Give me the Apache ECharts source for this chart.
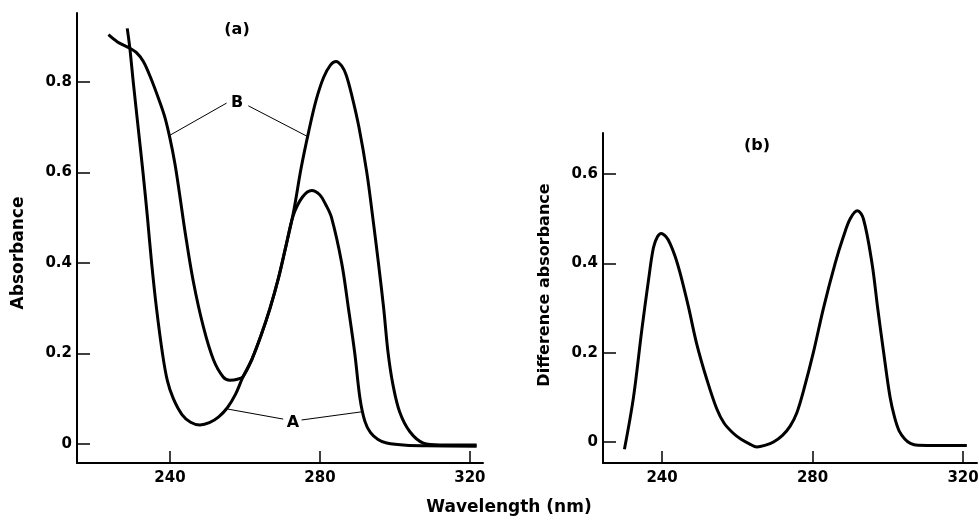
<!DOCTYPE html>
<html>
<head>
<meta charset="utf-8">
<script src="https://cdn.jsdelivr.net/npm/echarts@6/dist/echarts.min.js"></script>
<style>
  html, body { margin: 0; padding: 0; background: #fff; }
  #chart { width: 979px; height: 522px; }
</style>
</head>
<body>
<div id="chart"></div>
<script>
// (a) curve A
const aWave = [228.6, 229.3, 230.2, 231.5, 232.8, 234, 235.1, 236.4, 238, 239.3, 240.9, 243.2, 245.5, 248,
  250.5, 253, 255.3, 257.5, 259.5, 261.8, 264.3, 266.7, 268.9, 270.9, 272.9, 275.3, 277.8, 280, 281.6,
  283.1, 285.8, 287.6, 289.3, 290.7, 292, 293.5, 295.5, 297.8, 303, 308.4, 321.8]
const aAbs = [0.918, 0.874, 0.8, 0.7, 0.6, 0.5, 0.4, 0.3, 0.2, 0.14, 0.1, 0.065, 0.048, 0.042,
  0.047, 0.06, 0.08, 0.11, 0.149, 0.186, 0.24, 0.3, 0.365, 0.436, 0.505, 0.545, 0.56, 0.55, 0.528,
  0.5, 0.4, 0.3, 0.2, 0.1, 0.05, 0.025, 0.01, 0.002, -0.003, -0.004, -0.005]

// (a) curve B
const bWave = [223.6, 226, 229.3, 231, 232.9, 234.8, 237.3, 238.7, 240, 241.3, 242.6, 244, 246.2, 248.9, 251.6,
  254.2, 256, 258, 259.5, 261.8, 264.3, 266.7, 268.9, 270.9, 272.9, 275, 277, 279, 281, 282.8, 284.3,
  285.8, 287, 288.5, 290.4, 292.5, 294.1, 295.6, 297, 298.2, 299.5, 301.3, 304, 307.6, 312, 321.8]
const bAbs = [0.904, 0.888, 0.874, 0.865, 0.845, 0.81, 0.755, 0.72, 0.675, 0.62, 0.55, 0.47, 0.36, 0.259, 0.186,
  0.148, 0.141, 0.143, 0.149, 0.186, 0.24, 0.3, 0.365, 0.436, 0.51, 0.61, 0.69, 0.76, 0.81, 0.837, 0.845,
  0.835, 0.815, 0.77, 0.7, 0.6, 0.5, 0.4, 0.3, 0.2, 0.13, 0.07, 0.027, 0.002, -0.002, -0.002]

// (b) difference spectrum
const dWave = [230, 232.4, 234.6, 236.4, 237.7, 238.8, 239.8, 241, 242.1, 243.5, 244.8, 247, 249.2, 251.9,
  254.5, 256.5, 259, 261, 263.2, 265.2, 267.5, 269.6, 272, 274, 275.8, 277.6, 280.2, 282.9, 286, 288.2,
  290, 291.9, 293.5, 295.8, 297.3, 298.9, 300.6, 301.8, 303, 304.5, 306, 308, 321]
const dAbs = [-0.016, 0.1, 0.25, 0.363, 0.435, 0.46, 0.467, 0.46, 0.445, 0.415, 0.378, 0.303, 0.22, 0.14,
  0.075, 0.042, 0.019, 0.006, -0.004, -0.011, -0.007, 0, 0.015, 0.035, 0.065, 0.115, 0.2, 0.3, 0.4, 0.46,
  0.5, 0.518, 0.5, 0.4, 0.3, 0.2, 0.1, 0.055, 0.025, 0.007, -0.003, -0.007, -0.008]

// curve labels and leader lines in panel (a)
const curveLabels = [['B', 257.9, 0.754], ['A', 272.8, 0.046]]
const leaders = [
  [[240, 0.682], [255.1, 0.753]],
  [[260.9, 0.747], [276.5, 0.68]],
  [[255.5, 0.077], [270.2, 0.055]],
  [[275.1, 0.053], [291.1, 0.071]]
]

const xTicks = [240, 280, 320]
const aYTicks = [0, 0.2, 0.4, 0.6, 0.8]
const bYTicks = [0, 0.2, 0.4, 0.6]

const font = 'DejaVu Sans'
const ink = '#000'

const zip = (xs, ys) => xs.map((x, i) => [x, ys[i]])

function xAxisOf(gridIndex, min, max) {
  return {
    type: 'value', gridIndex, min, max,
    axisLine: { show: true, onZero: false, lineStyle: { color: ink, width: 2 } },
    axisTick: { show: true, inside: true, length: 12, customValues: xTicks, lineStyle: { color: ink, width: 1.5 } },
    axisLabel: { customValues: xTicks, color: ink, fontFamily: font, fontWeight: 'bold', fontSize: 15, margin: 8 },
    splitLine: { show: false }
  }
}

function yAxisOf(gridIndex, min, max, ticks) {
  return {
    type: 'value', gridIndex, min, max,
    axisLine: { show: true, onZero: false, lineStyle: { color: ink, width: 2 } },
    axisTick: { show: true, inside: true, length: 13, customValues: ticks, lineStyle: { color: ink, width: 1.5 } },
    axisLabel: { customValues: ticks, color: ink, fontFamily: font, fontWeight: 'bold', fontSize: 15, margin: 5 },
    splitLine: { show: false }
  }
}

function curve(xIdx, data) {
  return {
    type: 'line', xAxisIndex: xIdx, yAxisIndex: xIdx, data,
    showSymbol: false, smooth: 0.35,
    lineStyle: { color: ink, width: 3 }
  }
}

function text(str, x, y, size, rot) {
  return {
    type: 'text', x, y, rotation: rot || 0,
    style: {
      text: str, fill: ink, font: 'bold ' + size + 'px "' + font + '"',
      textAlign: 'center', textVerticalAlign: 'middle'
    }
  }
}

const option = {
  backgroundColor: '#fff',
  animation: false,
  grid: [
    { left: 77, top: 13, width: 406, height: 450, outerBoundsMode: 'none' },
    { left: 603, top: 133, width: 374, height: 330, outerBoundsMode: 'none' }
  ],
  xAxis: [xAxisOf(0, 215.2, 323.5), xAxisOf(1, 224.3, 323.7)],
  yAxis: [yAxisOf(0, -0.042, 0.952, aYTicks), yAxisOf(1, -0.047, 0.692, bYTicks)],
  series: [
    curve(0, zip(aWave, aAbs)),
    curve(0, zip(bWave, bAbs)),
    curve(1, zip(dWave, dAbs)),
    {
      type: 'lines', coordinateSystem: 'cartesian2d', xAxisIndex: 0, yAxisIndex: 0,
      data: leaders.map(c => ({ coords: c })),
      lineStyle: { color: ink, width: 1, opacity: 1 }
    },
    {
      type: 'scatter', xAxisIndex: 0, yAxisIndex: 0, symbolSize: 0,
      itemStyle: { color: ink, opacity: 1 },
      data: curveLabels.map(l => ({ name: l[0], value: [l[1], l[2]] })),
      label: {
        show: true, position: 'inside', formatter: '{b}',
        color: ink, textBorderWidth: 0, fontFamily: font, fontWeight: 'bold', fontSize: 16
      }
    }
  ],
  graphic: [
    text('(a)', 237, 30, 16),
    text('(b)', 757, 146, 16),
    text('Absorbance', 19, 253, 17, Math.PI / 2),
    text('Difference absorbance', 545, 285, 16, Math.PI / 2),
    text('Wavelength (nm)', 509, 508, 17)
  ]
}

const chart = echarts.init(document.getElementById('chart'))
chart.setOption(option)
</script>
</body>
</html>
